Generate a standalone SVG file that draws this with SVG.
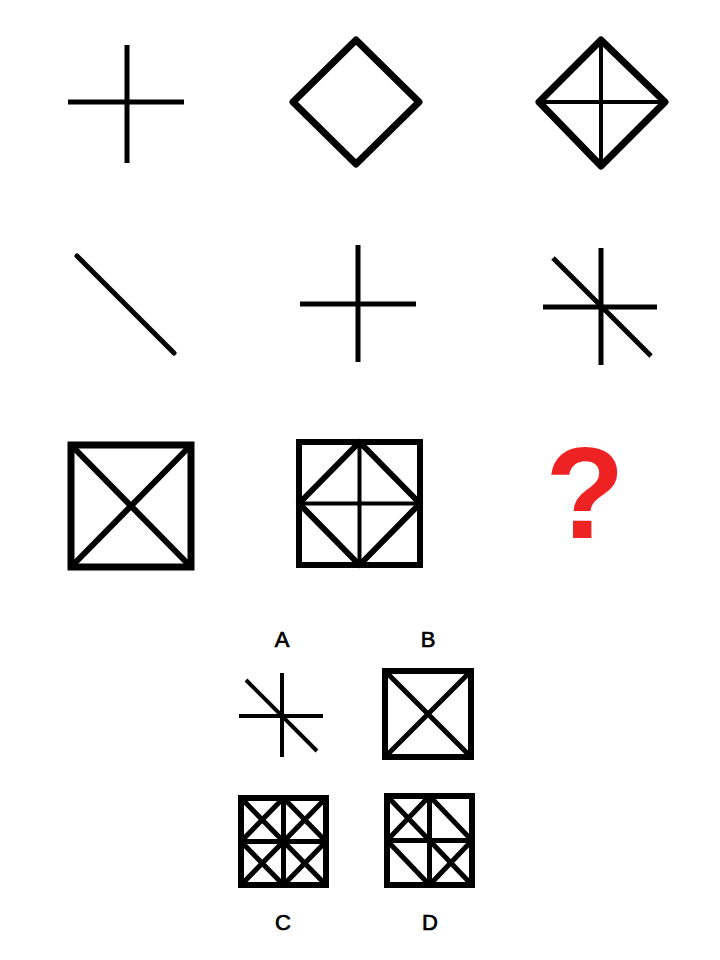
<svg xmlns="http://www.w3.org/2000/svg" width="720" height="960" viewBox="0 0 720 960">
<style>
.s{fill:none;stroke:#000;stroke-linecap:butt}
.t{stroke-width:5}
.k{stroke-width:7;stroke-linejoin:round}
.m{stroke-width:6}
.n{stroke-width:4}
.lbl{font-family:"Liberation Sans",Arial,sans-serif;font-size:22px;fill:#000;stroke:#000;stroke-width:0.7;text-anchor:middle}
</style>
<rect width="720" height="960" fill="#fff"/>
<g id="r1c1" class="s t"><line x1="68" y1="102" x2="184" y2="102"/><line x1="127" y1="45" x2="127" y2="163"/></g>
<g id="r1c2"><polygon class="s k" points="356,40 419,102 356,164 293,102"/></g>
<g id="r1c3"><polygon class="s k" points="601,40 665,102 601,166 539,102"/><g class="s n"><line x1="539" y1="102" x2="665" y2="102"/><line x1="601" y1="40" x2="601" y2="166"/></g></g>
<g id="r2c1" class="s t"><line x1="77" y1="256" x2="174" y2="353" stroke-linecap="round"/></g>
<g id="r2c2" class="s t"><line x1="300" y1="304" x2="416" y2="304"/><line x1="358" y1="245" x2="358" y2="362"/></g>
<g id="r2c3" class="s t"><line x1="543" y1="307" x2="657" y2="307"/><line x1="601" y1="248" x2="601" y2="365"/><line x1="553" y1="258" x2="651" y2="356"/></g>
<g id="r3c1" class="s m"><rect x="71" y="445" width="120" height="122" stroke-width="7"/><line x1="71" y1="445" x2="191" y2="567"/><line x1="191" y1="445" x2="71" y2="567"/></g>
<g id="r3c2" class="s m"><rect x="299" y="442" width="121" height="123" stroke-width="6"/><polygon points="359.5,442 420,503.5 359.5,565 299,503.5" stroke-linejoin="round"/><line x1="299" y1="503.5" x2="420" y2="503.5" stroke-width="4"/><line x1="359.5" y1="442" x2="359.5" y2="565" stroke-width="4"/></g>
<g id="q"><text x="585" y="538" font-family="Liberation Sans,Arial,sans-serif" font-weight="bold" font-size="130" fill="#ee2222" text-anchor="middle">?</text></g>
<g id="A"><text class="lbl" x="282" y="647">A</text><g class="s n"><line x1="282" y1="673" x2="282" y2="757"/><line x1="239" y1="716" x2="323" y2="716"/><line x1="246" y1="680" x2="317" y2="751"/></g></g>
<g id="B"><text class="lbl" x="428" y="647">B</text><g class="s" stroke-width="5"><rect x="385" y="671" width="86" height="86" stroke-width="6"/><line x1="385" y1="671" x2="471" y2="757"/><line x1="471" y1="671" x2="385" y2="757"/></g></g>
<g id="C"><text class="lbl" x="283" y="930">C</text><g class="s" stroke-width="5"><rect x="241" y="798" width="85" height="87" stroke-width="6"/><line x1="283.5" y1="798" x2="283.5" y2="885"/><line x1="241" y1="841.5" x2="326" y2="841.5"/><line x1="241" y1="798" x2="283.5" y2="841.5"/><line x1="283.5" y1="798" x2="241" y2="841.5"/><line x1="283.5" y1="798" x2="326" y2="841.5"/><line x1="326" y1="798" x2="283.5" y2="841.5"/><line x1="241" y1="841.5" x2="283.5" y2="885"/><line x1="283.5" y1="841.5" x2="241" y2="885"/><line x1="283.5" y1="841.5" x2="326" y2="885"/><line x1="326" y1="841.5" x2="283.5" y2="885"/></g></g>
<g id="D"><text class="lbl" x="430" y="930">D</text><g class="s" stroke-width="5"><rect x="387" y="796" width="85" height="89" stroke-width="6"/><line x1="429.5" y1="796" x2="429.5" y2="885"/><line x1="387" y1="840.5" x2="472" y2="840.5"/><line x1="387" y1="796" x2="429.5" y2="840.5"/><line x1="429.5" y1="796" x2="387" y2="840.5"/><line x1="429.5" y1="796" x2="472" y2="840.5"/><line x1="387" y1="840.5" x2="429.5" y2="885"/><line x1="429.5" y1="840.5" x2="472" y2="885"/><line x1="472" y1="840.5" x2="429.5" y2="885"/></g></g>
</svg>
